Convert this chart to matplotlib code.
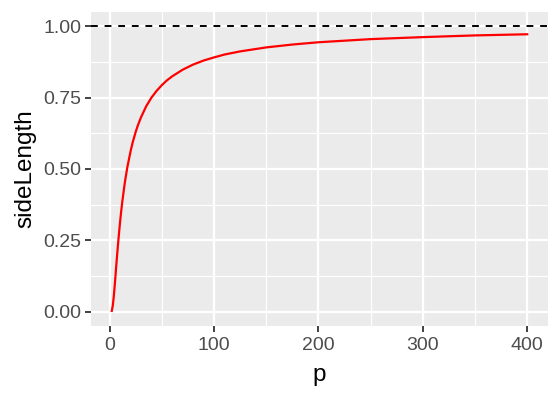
import matplotlib
matplotlib.use("Agg")
import matplotlib.pyplot as plt

p = [2, 3, 4, 5, 6, 7, 8, 9, 10, 11, 12, 14, 15, 17, 20, 22, 25, 27, 30, 35,
     40, 45, 50, 55, 60, 70, 80, 90, 100, 110, 125, 150, 175, 200, 250, 300,
     350, 400]
side_length = [0.003, 0.022, 0.056, 0.100, 0.147, 0.193, 0.237, 0.278, 0.316,
               0.351, 0.383, 0.439, 0.464, 0.508, 0.562, 0.593, 0.631, 0.653,
               0.681, 0.720, 0.750, 0.774, 0.794, 0.811, 0.825, 0.848, 0.866,
               0.880, 0.891, 0.901, 0.912, 0.926, 0.936, 0.944, 0.955, 0.962,
               0.968, 0.972]
hline_y = 1.0
x_ticks = [0, 100, 200, 300, 400]
x_minor = [50, 150, 250, 350]
y_ticks = [0.00, 0.25, 0.50, 0.75, 1.00]
y_minor = [0.125, 0.375, 0.625, 0.875]

plt.rcParams['font.family'] = ['Liberation Sans', 'DejaVu Sans']

fig = plt.figure(figsize=(5.6, 4.0), dpi=100)
ax = fig.add_axes([91/560, 1-326/400, (548-91)/560, (326-12)/400])
ax.set_facecolor('#EBEBEB')
for s in ax.spines.values():
    s.set_visible(False)

xmin, xmax = min(p), max(p)
xr = xmax - xmin
ax.set_xlim(xmin - 0.05*xr, xmax + 0.05*xr)
ax.set_ylim(-0.05, 1.05)

for v in x_minor:
    ax.axvline(v, color='white', lw=0.8, zorder=0.5)
for v in y_minor:
    ax.axhline(v, color='white', lw=0.8, zorder=0.5)
for v in x_ticks:
    ax.axvline(v, color='white', lw=1.6, zorder=0.6)
for v in y_ticks:
    ax.axhline(v, color='white', lw=1.6, zorder=0.6)

ax.plot(p, side_length, color='#FF0000', lw=1.6, zorder=3)
ax.axhline(hline_y, color='black', lw=1.4, ls=(0, (3.5, 3.5)), zorder=3)

ax.set_xticks(x_ticks)
ax.set_xticklabels([str(v) for v in x_ticks])
ax.set_yticks(y_ticks)
ax.set_yticklabels([f"{v:.2f}" for v in y_ticks])
ax.tick_params(axis='both', length=4, width=1.3, color='#333333',
               labelcolor='#4D4D4D', labelsize=14, pad=3)
ax.tick_params(axis='x', pad=4)
ax.set_xlabel('p', fontsize=17.5, color='black', labelpad=7)
ax.set_ylabel('sideLength', fontsize=17.5, color='black', labelpad=5)

fig.savefig('out.png', dpi=100)
